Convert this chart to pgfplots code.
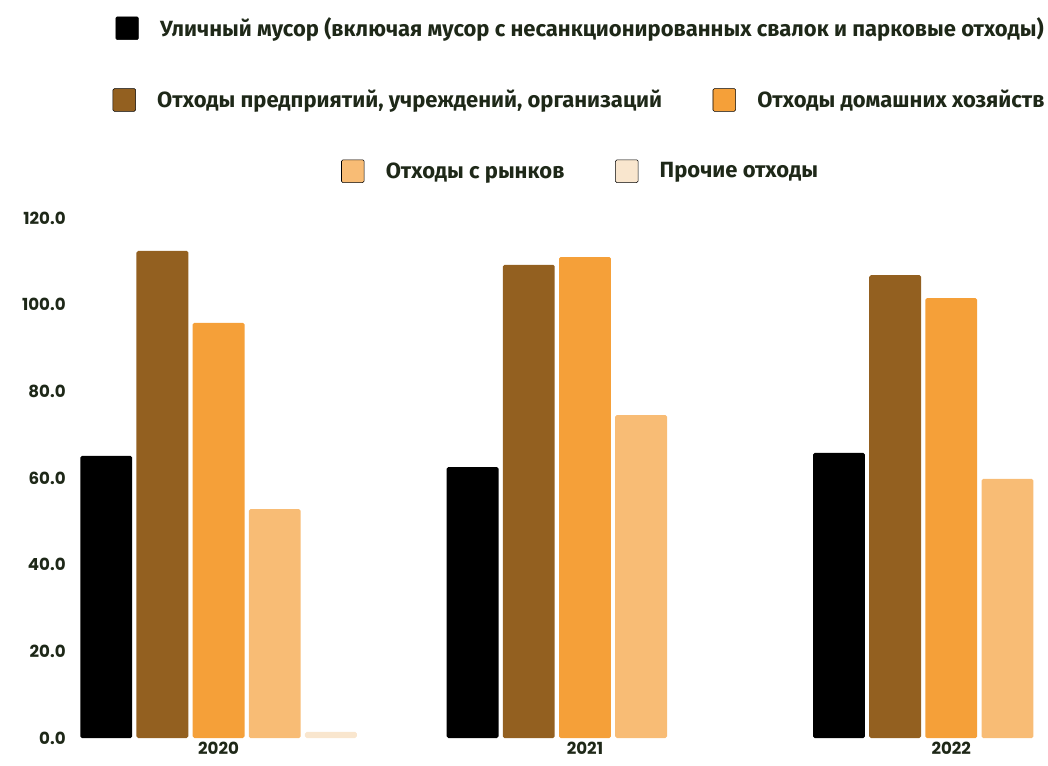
\documentclass[border=0pt]{standalone}
\usepackage{fontspec}
\usepackage{pgfplots}
\pgfplotsset{compat=1.18}
\setmainfont{Fira Sans}
\newfontfamily\legfont{Fira Sans}
\newfontfamily\tickfont{Poppins}
\definecolor{txt}{HTML}{1E2818}
\definecolor{cA}{HTML}{000000}
\definecolor{cB}{HTML}{936020}
\definecolor{cC}{HTML}{F5A039}
\definecolor{cD}{HTML}{F8BC75}
\definecolor{cE}{HTML}{F9E6CE}
\pgfplotsset{
  base/.style={scale only axis, width=726.75pt, height=390pt,
    xmin=-0.381, xmax=2.264, ymin=0, ymax=120},
  legbox/.style={legend image code/.code={\fill[##1, rounded corners=1pt] (0pt,-8.5pt) rectangle (17pt,8.5pt);}},
  legaxis/.style={base, hide axis,
    legend style={draw=none, fill=none, legend columns=-1, anchor=center,
      font=\legfont\bfseries\fontsize{16.5}{18}\selectfont, text=txt,
      /tikz/every odd column/.append style={column sep=14pt},
      /tikz/every even column/.append style={column sep=36pt}}},
}
\begin{document}
\begin{tikzpicture}
\begin{axis}[base,
  axis line style={draw=none}, major tick length=0pt,
  xtick={0,1,2}, xticklabels={2020,2021,2022},
  ytick={0,20,...,120},
  /pgf/number format/assume math mode=true,
  yticklabel style={/pgf/number format/fixed, /pgf/number format/fixed zerofill, /pgf/number format/precision=1, xshift=-6.5pt},
  xticklabel style={yshift=-2pt, inner sep=1pt},
  tick label style={font=\tickfont\bfseries\fontsize{12.5}{14}\selectfont, text=txt},
  ybar, bar width=0.1415,
  every axis plot/.append style={draw=none, rounded corners=1.2pt},
]
\addplot[fill=cA, bar shift=-0.3066] coordinates {(0,65.1) (1,62.5) (2,65.8)};
\addplot[fill=cB, bar shift=-0.1533] coordinates {(0,112.4) (1,109.2) (2,106.8)};
\addplot[fill=cC, bar shift=0] coordinates {(0,95.8) (1,111.0) (2,101.5)};
\addplot[fill=cD, bar shift=0.1533] coordinates {(0,52.8) (1,74.5) (2,59.8)};
\addplot[fill=cE, bar shift=0.3066] coordinates {(0,1.4)};
\end{axis}
\begin{axis}[legaxis, legend style={at={(0.518,1.365)}}]
\addlegendimage{legbox, fill=cA}
\addlegendentry{Уличный мусор (включая мусор с несанкционированных свалок и парковые отходы)}
\end{axis}
\begin{axis}[legaxis, legend style={at={(0.517,1.227)}}]
\addlegendimage{legbox, fill=cB}
\addlegendentry{Отходы предприятий, учреждений, организаций}
\addlegendimage{legbox, fill=cC}
\addlegendentry{Отходы домашних хозяйств}
\end{axis}
\begin{axis}[legaxis, legend style={at={(0.518,1.090)}}]
\addlegendimage{legbox, fill=cD}
\addlegendentry{Отходы с рынков}
\addlegendimage{legbox, fill=cE}
\addlegendentry{Прочие отходы}
\end{axis}
\pgfresetboundingbox
\path (-59.25pt,-20.25pt) rectangle (726.75pt,553.5pt);
\end{tikzpicture}
\end{document}
